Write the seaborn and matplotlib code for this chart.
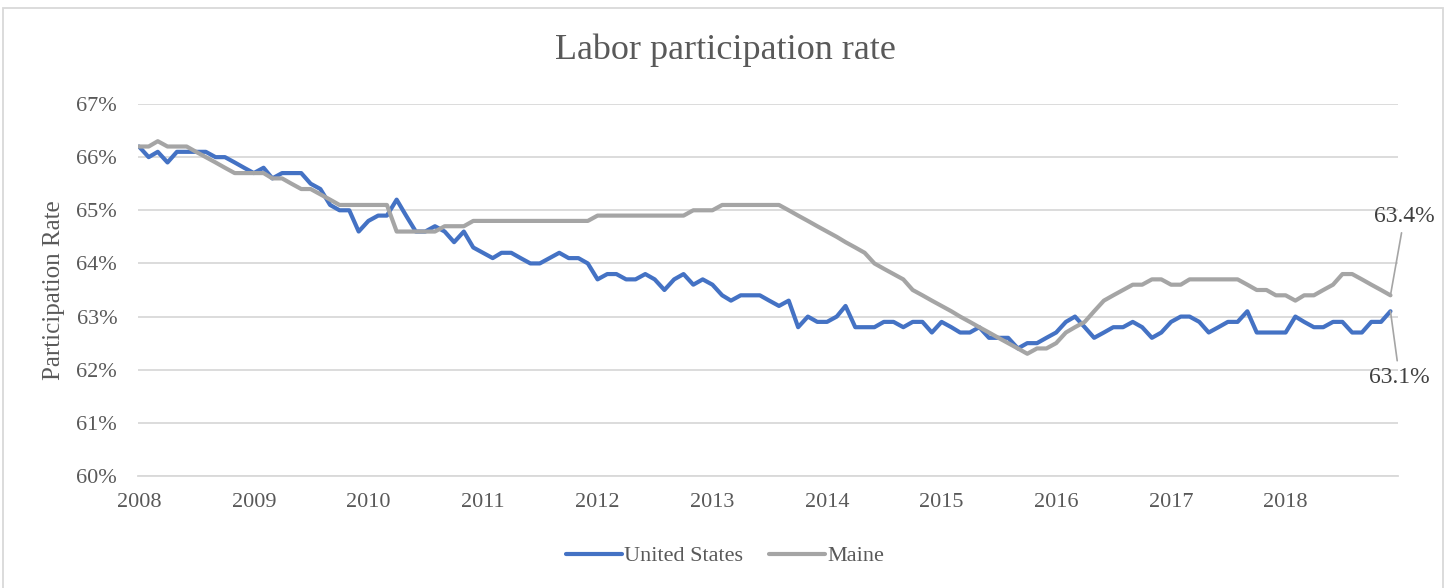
import pandas as pd
import matplotlib.pyplot as plt
import matplotlib.dates as mdates
from matplotlib.ticker import FuncFormatter
from matplotlib.patches import Rectangle
import seaborn as sns

# monthly labor force participation rate, Jan 2008 - Dec 2018
months = pd.date_range('2008-01-01', periods=132, freq='MS')
us_rate = [
    66.2, 66.0, 66.1, 65.9, 66.1, 66.1, 66.1, 66.1, 66.0, 66.0, 65.9, 65.8,
    65.7, 65.8, 65.6, 65.7, 65.7, 65.7, 65.5, 65.4, 65.1, 65.0, 65.0, 64.6,
    64.8, 64.9, 64.9, 65.2, 64.9, 64.6, 64.6, 64.7, 64.6, 64.4, 64.6, 64.3,
    64.2, 64.1, 64.2, 64.2, 64.1, 64.0, 64.0, 64.1, 64.2, 64.1, 64.1, 64.0,
    63.7, 63.8, 63.8, 63.7, 63.7, 63.8, 63.7, 63.5, 63.7, 63.8, 63.6, 63.7,
    63.6, 63.4, 63.3, 63.4, 63.4, 63.4, 63.3, 63.2, 63.3, 62.8, 63.0, 62.9,
    62.9, 63.0, 63.2, 62.8, 62.8, 62.8, 62.9, 62.9, 62.8, 62.9, 62.9, 62.7,
    62.9, 62.8, 62.7, 62.7, 62.8, 62.6, 62.6, 62.6, 62.4, 62.5, 62.5, 62.6,
    62.7, 62.9, 63.0, 62.8, 62.6, 62.7, 62.8, 62.8, 62.9, 62.8, 62.6, 62.7,
    62.9, 63.0, 63.0, 62.9, 62.7, 62.8, 62.9, 62.9, 63.1, 62.7, 62.7, 62.7,
    62.7, 63.0, 62.9, 62.8, 62.8, 62.9, 62.9, 62.7, 62.7, 62.9, 62.9, 63.1,
]
maine_rate = [
    66.2, 66.2, 66.3, 66.2, 66.2, 66.2, 66.1, 66.0, 65.9, 65.8, 65.7, 65.7,
    65.7, 65.7, 65.6, 65.6, 65.5, 65.4, 65.4, 65.3, 65.2, 65.1, 65.1, 65.1,
    65.1, 65.1, 65.1, 64.6, 64.6, 64.6, 64.6, 64.6, 64.7, 64.7, 64.7, 64.8,
    64.8, 64.8, 64.8, 64.8, 64.8, 64.8, 64.8, 64.8, 64.8, 64.8, 64.8, 64.8,
    64.9, 64.9, 64.9, 64.9, 64.9, 64.9, 64.9, 64.9, 64.9, 64.9, 65.0, 65.0,
    65.0, 65.1, 65.1, 65.1, 65.1, 65.1, 65.1, 65.1, 65.0, 64.9, 64.8, 64.7,
    64.6, 64.5, 64.4, 64.3, 64.2, 64.0, 63.9, 63.8, 63.7, 63.5, 63.4, 63.3,
    63.2, 63.1, 63.0, 62.9, 62.8, 62.7, 62.6, 62.5, 62.4, 62.3, 62.4, 62.4,
    62.5, 62.7, 62.8, 62.9, 63.1, 63.3, 63.4, 63.5, 63.6, 63.6, 63.7, 63.7,
    63.6, 63.6, 63.7, 63.7, 63.7, 63.7, 63.7, 63.7, 63.6, 63.5, 63.5, 63.4,
    63.4, 63.3, 63.4, 63.4, 63.5, 63.6, 63.8, 63.8, 63.7, 63.6, 63.5, 63.4,
]
series_names = ['United States', 'Maine']
colors = ['#4472C4', '#A5A5A5']
y_ticks = [60, 61, 62, 63, 64, 65, 66, 67]

df = pd.DataFrame({'date': months, 'United States': us_rate, 'Maine': maine_rate})
long_df = df.melt(id_vars='date', value_vars=series_names, var_name='series', value_name='rate')

sns.set_style('white')
plt.rcParams['font.family'] = ['Liberation Serif', 'DejaVu Serif']
text_color = '#595959'

fig = plt.figure(figsize=(14.5, 5.88), dpi=100)
ax = fig.add_axes([138 / 1450, 1 - 476 / 588, 1260 / 1450, 372 / 588])

sns.lineplot(data=long_df, x='date', y='rate', hue='series', hue_order=series_names,
             palette=dict(zip(series_names, colors)), linewidth=3, ax=ax)

ax.set_ylim(60, 67)
ax.set_yticks(y_ticks)
ax.yaxis.set_major_formatter(FuncFormatter(lambda v, p: f'{v:.0f}%'))
ax.set_xlim(pd.Timestamp('2007-12-29'), pd.Timestamp('2018-12-25'))
ax.xaxis.set_major_locator(mdates.YearLocator())
ax.xaxis.set_major_formatter(mdates.DateFormatter('%Y'))
ax.grid(axis='y', color='#D9D9D9', linewidth=1.3)
ax.grid(axis='x', visible=False)
ax.set_axisbelow(True)
for s in ax.spines.values():
    s.set_visible(False)
ax.spines['bottom'].set_visible(True)
ax.spines['bottom'].set_color('#D9D9D9')
ax.spines['bottom'].set_linewidth(1.3)
ax.tick_params(axis='both', length=0, labelsize=16, labelcolor=text_color)
ax.tick_params(axis='y', pad=15)
ax.tick_params(axis='x', pad=12)

ax.set_xlabel('')
ax.set_ylabel('Participation Rate', fontsize=18, color=text_color)
ax.yaxis.set_label_coords(-0.058, 0.5)

fig.suptitle('Labor participation rate', fontsize=26, color=text_color, y=1 - 50 / 588, va='center')

# end-point labels
ax.annotate(f'{maine_rate[-1]:.1f}%', xy=(months[-1], maine_rate[-1]), xytext=(14, 79),
            textcoords='offset pixels', ha='center', va='center', fontsize=17, color='#404040',
            arrowprops=dict(arrowstyle='-', color='#A5A5A5', lw=1.2, shrinkA=2, shrinkB=0))
ax.annotate(f'{us_rate[-1]:.1f}%', xy=(months[-1], us_rate[-1]), xytext=(9, -66),
            textcoords='offset pixels', ha='center', va='center', fontsize=17, color='#404040',
            arrowprops=dict(arrowstyle='-', color='#A5A5A5', lw=1.2, shrinkA=2, shrinkB=0))

ax.legend(loc='center', bbox_to_anchor=(0.5, 1 - 556 / 588), bbox_transform=fig.transFigure,
          ncol=2, frameon=False, fontsize=16, handlelength=2.5, handletextpad=0.1,
          columnspacing=1.2, labelcolor=text_color)

fig.patches.append(Rectangle((3 / 1450, -0.01), 1440 / 1450, 1 - 8 / 588 + 0.01,
                             transform=fig.transFigure, fill=False,
                             edgecolor='#D9D9D9', linewidth=1.3))

fig.savefig('out.png', dpi=100)
